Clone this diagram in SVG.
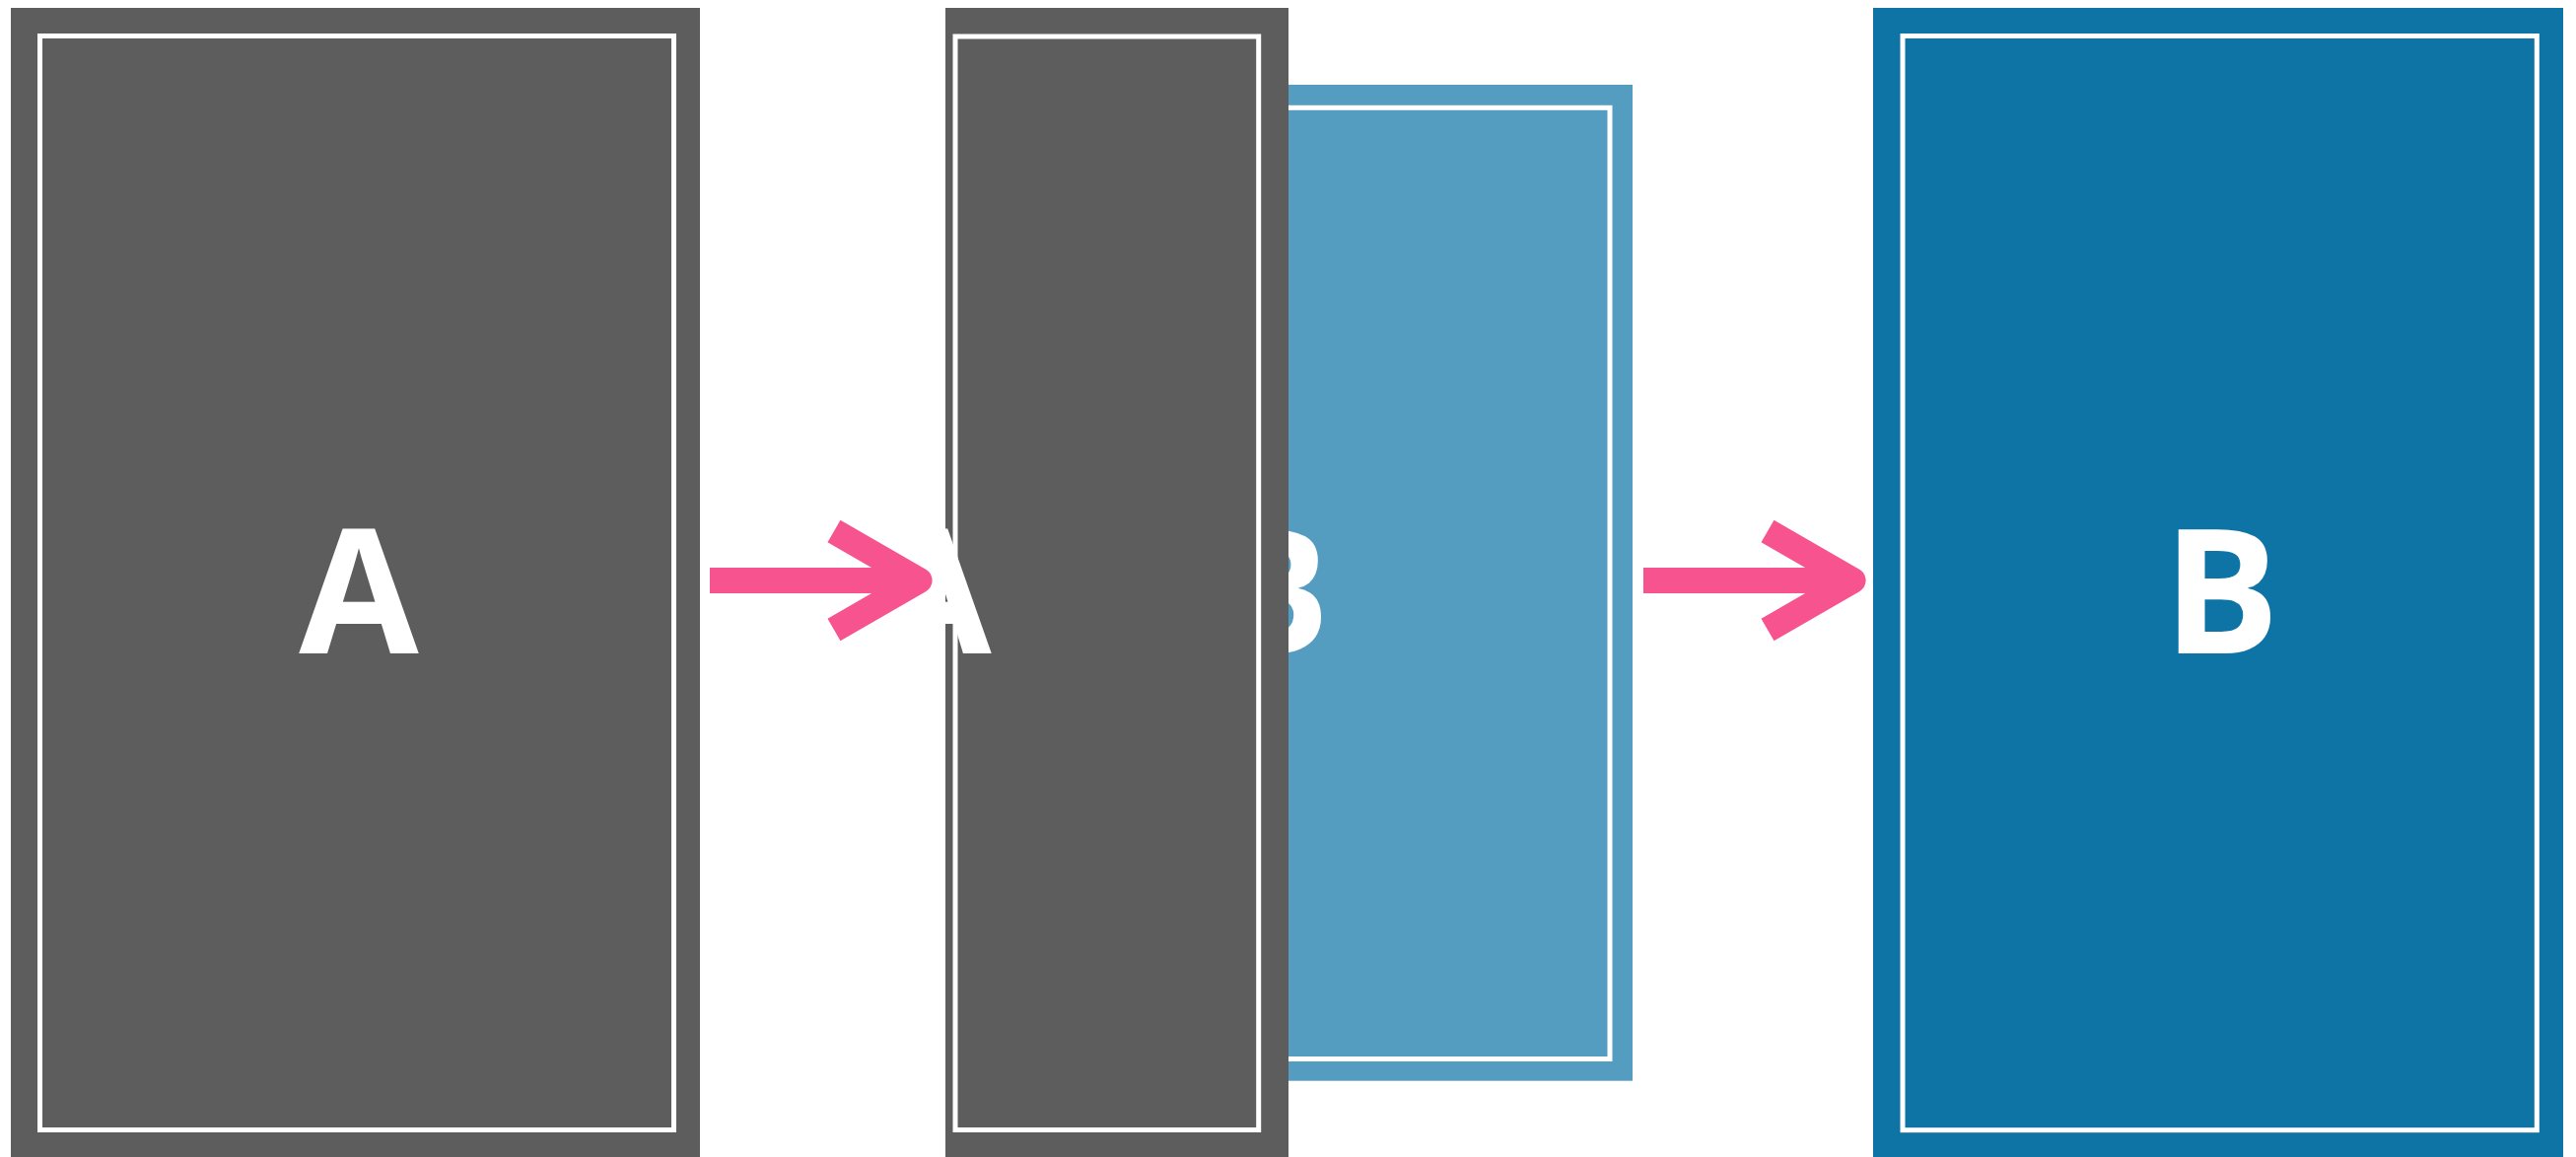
<svg xmlns="http://www.w3.org/2000/svg" width="2613" height="1174" viewBox="0 0 2613 1174">
<style>
.gray{fill:#5d5d5d}
.lblue{fill:#559dc0}
.dblue{fill:#0e74a5}
.inner{fill:none;stroke:#ffffff;stroke-width:5}
.lbl{font-family:"Open Sans","Noto Sans","DejaVu Sans",sans-serif;font-weight:bold;font-size:176px;fill:#ffffff;text-anchor:middle}
.arrow{fill:none;stroke:#f7538f;stroke-width:26;stroke-linejoin:round;stroke-linecap:butt}
</style>
<defs>
<clipPath id="midclip"><rect x="959" y="8" width="348" height="1170"/></clipPath>
</defs>
<rect width="2613" height="1174" fill="#ffffff"/>
<g id="nodeA">
<rect class="gray" x="11" y="8" width="699" height="1170"/>
<rect class="inner" x="40.5" y="36.5" width="643" height="1110"/>
<text class="lbl" x="364" y="663">A</text>
</g>
<g id="nodeB-faded">
<rect class="lblue" x="1050" y="86" width="606" height="1010.7"/>
<rect class="inner" x="1073" y="109.3" width="560" height="965.2"/>
<text class="lbl" x="1290" y="663">B</text>
</g>
<g id="nodeA-leaving">
<rect class="gray" x="959" y="8" width="348" height="1170"/>
<rect class="inner" x="969" y="37" width="307.7" height="1109.5"/>
<text class="lbl" x="945" y="663" clip-path="url(#midclip)">A</text>
</g>
<g id="nodeB">
<rect class="dblue" x="1900" y="8" width="700" height="1170"/>
<rect class="inner" x="1930" y="36.5" width="643.3" height="1110.2"/>
<text class="lbl" x="2253" y="663">B</text>
</g>
<g id="connectors">
<path class="arrow" d="M720,589 L932,589 M846,539 L932.6,589 L846,639"/>
<path class="arrow" d="M1667,589 L1879,589 M1793,539 L1879.6,589 L1793,639"/>
</g>
</svg>
